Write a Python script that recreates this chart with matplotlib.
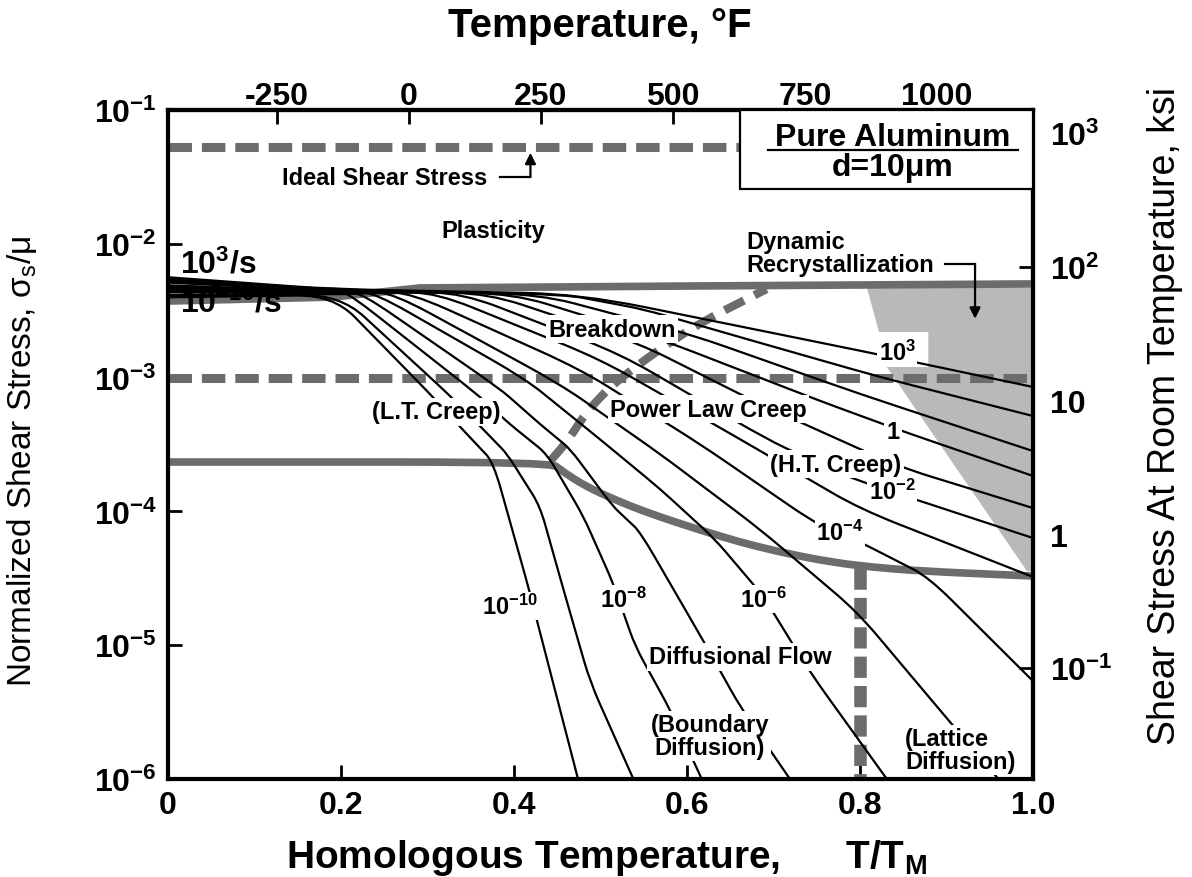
import matplotlib
matplotlib.use('Agg')
import matplotlib.pyplot as plt
import numpy as np
from matplotlib import font_manager
from matplotlib.path import Path
from matplotlib.patches import PathPatch, Polygon, Rectangle
from matplotlib.ticker import FixedLocator, FixedFormatter, NullLocator

installed = {f.name for f in font_manager.fontManager.ttflist}
SANS = 'Liberation Sans' if 'Liberation Sans' in installed else 'DejaVu Sans'

plt.rcParams['font.family'] = SANS
plt.rcParams['mathtext.fontset'] = 'custom'
plt.rcParams['mathtext.rm'] = SANS
plt.rcParams['mathtext.bf'] = SANS + ':bold'
plt.rcParams['mathtext.it'] = SANS + ':italic'
plt.rcParams['axes.unicode_minus'] = False

# axes
T_TICKS = [0, 0.2, 0.4, 0.6, 0.8, 1.0]
T_LABELS = ['0', '0.2', '0.4', '0.6', '0.8', '1.0']
S_TICKS = [1e-6, 1e-5, 1e-4, 1e-3, 1e-2, 1e-1]
S_LABELS = [r'$\mathbf{10^{-6}}$', r'$\mathbf{10^{-5}}$', r'$\mathbf{10^{-4}}$',
            r'$\mathbf{10^{-3}}$', r'$\mathbf{10^{-2}}$', r'$\mathbf{10^{-1}}$']
F_TICKS = [-250, 0, 250, 500, 750, 1000]
KSI_TICKS = [0.1, 1, 10, 100, 1000]
KSI_LABELS = [r'$\mathbf{10^{-1}}$', '1', '10', r'$\mathbf{10^{2}}$', r'$\mathbf{10^{3}}$']
F_ZERO = -456.0      # deg F at T/TM = 0 on the upper scale
F_SPAN = 1638.0      # deg F per unit T/TM
KSI_PER_MU = 10 ** 4.173

# strain-rate contours: T/TM and log10(sigma_s/mu)
r3_T = [0, 0.187, 0.476, 0.808, 1.0]
r3_S = [-2.25, -2.338, -2.375, -2.809, -3.070]
r2_T = [0, 0.19, 0.46, 0.55, 0.661, 0.823, 1.0]
r2_S = [-2.26, -2.341, -2.380, -2.49, -2.697, -2.996, -3.287]
r1_T = [0, 0.19, 0.43, 0.603, 0.800, 1.0]
r1_S = [-2.27, -2.345, -2.378, -2.674, -3.123, -3.549]
r0_T = [0, 0.19, 0.40, 0.569, 0.754, 0.852, 1.0]
r0_S = [-2.28, -2.348, -2.374, -2.712, -3.175, -3.407, -3.735]
rm1_T = [0, 0.19, 0.37, 0.546, 0.684, 0.846, 1.0]
rm1_S = [-2.29, -2.352, -2.371, -2.749, -3.197, -3.668, -3.975]
rm2_T = [0, 0.19, 0.34, 0.523, 0.692, 0.785, 1.0]
rm2_S = [-2.31, -2.355, -2.368, -2.824, -3.459, -3.743, -4.199]
rm3_T = [0, 0.19, 0.31, 0.499, 0.661, 0.800, 1.0]
rm3_S = [-2.32, -2.359, -2.366, -2.861, -3.459, -3.982, -4.490]
rm4_T = [0, 0.19, 0.28, 0.476, 0.615, 0.746, 0.800, 0.879, 1.0]
rm4_S = [-2.33, -2.362, -2.365, -2.936, -3.496, -4.079, -4.229, -4.490, -5.268]
rm5_T = [0, 0.19, 0.26, 0.453, 0.569, 0.684, 0.797, 0.904, 0.960]
rm5_S = [-2.34, -2.366, -2.368, -3.048, -3.571, -4.132, -4.752, -5.574, -6.0]
rm6_T = [0, 0.19, 0.24, 0.413, 0.499, 0.569, 0.632, 0.688, 0.742, 0.831]
rm6_S = [-2.35, -2.369, -2.370, -3.010, -3.459, -3.833, -4.206, -4.632, -5.200, -6.0]
rm7_T = [0, 0.19, 0.225, 0.384, 0.430, 0.465, 0.514, 0.546, 0.619, 0.661, 0.719]
rm7_S = [-2.36, -2.373, -2.374, -3.085, -3.347, -3.534, -3.960, -4.154, -4.969, -5.454, -6.0]
rm8_T = [0, 0.19, 0.210, 0.357, 0.395, 0.438, 0.480, 0.514, 0.540, 0.580, 0.617]
rm8_S = [-2.38, -2.376, -2.376, -3.123, -3.347, -3.571, -4.034, -4.528, -5.006, -5.477, -6.0]
rm9_T = [0, 0.199, 0.324, 0.364, 0.392, 0.430, 0.457, 0.488, 0.538]
rm9_S = [-2.39, -2.380, -3.123, -3.384, -3.571, -3.960, -4.580, -5.275, -6.0]
rm10_T = [0, 0.191, 0.303, 0.340, 0.376, 0.415, 0.427, 0.474]
rm10_S = [-2.40, -2.383, -3.123, -3.384, -3.631, -4.528, -4.827, -6.0]

# field boundaries
plastic_T = [0, 0.191, 0.291, 0.615, 1.0]
plastic_S = [-2.428, -2.398, -2.330, -2.315, -2.300]
diffusion_T = [0, 0.442, 0.459, 0.477, 0.499, 0.534, 0.569, 0.615, 0.661,
               0.708, 0.754, 0.800, 0.869, 1.0]
diffusion_S = [-3.631, -3.631, -3.713, -3.788, -3.862, -3.959, -4.042, -4.139,
               -4.229, -4.304, -4.364, -4.408, -4.446, -4.483]
breakdown_T = [0.442, 0.461, 0.484, 0.511, 0.542, 0.569, 0.617, 0.692]
breakdown_S = [-3.623, -3.481, -3.257, -3.070, -2.913, -2.786, -2.584, -2.338]
lattice_T = 0.8
lattice_S = [-4.42, -6.0]
ideal_shear = 0.0528
ideal_end_T = 0.661
yield_level = 1e-3

# dynamic recrystallization field
drx_T = [0.808, 0.822, 0.879, 0.879, 0.831, 0.993, 1.0, 1.0]
drx_S = [-2.330, -2.659, -2.659, -2.921, -2.921, -4.446, -4.446, -2.330]

contours = [(r3_T, r3_S), (r2_T, r2_S), (r1_T, r1_S), (r0_T, r0_S),
            (rm1_T, rm1_S), (rm2_T, rm2_S), (rm3_T, rm3_S), (rm4_T, rm4_S),
            (rm5_T, rm5_S), (rm6_T, rm6_S), (rm7_T, rm7_S), (rm8_T, rm8_S),
            (rm9_T, rm9_S), (rm10_T, rm10_S)]

# contour labels: text, T/TM, log10 stress
rate_labels = [(r'$\mathbf{10^{3}}$', 0.843, -2.809),
               (r'$\mathbf{1}$', 0.838, -3.407),
               (r'$\mathbf{10^{-2}}$', 0.837, -3.848),
               (r'$\mathbf{10^{-4}}$', 0.777, -4.154),
               (r'$\mathbf{10^{-6}}$', 0.688, -4.655),
               (r'$\mathbf{10^{-8}}$', 0.526, -4.655),
               (r'$\mathbf{10^{-10}}$', 0.395, -4.707)]


def rounded_path(t, logs, frac=0.22):
    """Polyline through (t, log s) with its corners rounded off."""
    p = np.column_stack([t, logs]).astype(float)
    verts = [p[0]]
    codes = [Path.MOVETO]
    for i in range(1, len(p) - 1):
        a = p[i] + (p[i - 1] - p[i]) * frac
        b = p[i] + (p[i + 1] - p[i]) * frac
        verts += [a, p[i], b]
        codes += [Path.LINETO, Path.CURVE3, Path.CURVE3]
    verts.append(p[-1])
    codes.append(Path.LINETO)
    v = np.array(verts)
    v[:, 1] = np.power(10.0, v[:, 1])
    return Path(v, codes)


fig = plt.figure(figsize=(11.92, 8.78), dpi=100)
ax = fig.add_axes([168 / 1192, 98 / 878, 865 / 1192, 669 / 878])
ax.set_yscale('log')
ax.set_xlim(0, 1)
ax.set_ylim(1e-6, 1e-1)

GRAY = '#6c6c6c'

ax.add_patch(Polygon(np.column_stack([drx_T, np.power(10.0, drx_S)]),
                     closed=True, facecolor='#b9b9b9', edgecolor='none', zorder=1))

for t, s in contours:
    ax.add_patch(PathPatch(rounded_path(t, s), fill=False, edgecolor='black',
                           lw=1.6, zorder=3))

ax.plot(plastic_T, np.power(10.0, plastic_S), color=GRAY, lw=5.5,
        solid_capstyle='butt', zorder=2)
ax.add_patch(PathPatch(rounded_path(diffusion_T, diffusion_S, 0.4), fill=False,
                       edgecolor=GRAY, lw=5.5, capstyle='butt', zorder=2))

dash_kw = dict(color=GRAY, lw=6.5, dash_capstyle='butt', zorder=2)
line, = ax.plot([0, ideal_end_T], [ideal_shear, ideal_shear], **dash_kw)
line.set_dashes((2.6, 1.1))
line, = ax.plot([0, 1], [yield_level, yield_level], **dash_kw)
line.set_dashes((2.6, 1.1))
ax.add_patch(PathPatch(rounded_path(breakdown_T, breakdown_S, 0.4), fill=False,
                       edgecolor=GRAY, lw=6, capstyle='butt',
                       linestyle=(0, (2.6, 1.4)), zorder=2))
line, = ax.plot([lattice_T, lattice_T], np.power(10.0, lattice_S), color=GRAY,
                lw=9, dash_capstyle='butt', zorder=2)
line.set_dashes((1.7, 0.65))

# legend box
ax.add_patch(Rectangle((0.6613, 0.8819), 0.3387, 0.1181, transform=ax.transAxes,
                       facecolor='white', edgecolor='black', lw=1.6, zorder=5))
ax.plot([0.6936, 0.9827], [0.9402, 0.9402], transform=ax.transAxes, color='black',
        lw=1.6, zorder=6)
ax.text(0.8382, 10 ** -1.20, 'Pure Aluminum', ha='center', va='center',
        fontsize=23, fontweight='bold', zorder=6)
ax.text(0.8382, 10 ** -1.425, 'd=10\u03bcm', ha='center', va='center',
        fontsize=23, fontweight='bold', zorder=6)

lab = dict(ha='center', va='center', fontweight='bold', fontsize=17, zorder=4,
           bbox=dict(facecolor='white', edgecolor='none', pad=1.5))
ax.text(0.2509, 10 ** -1.501, 'Ideal Shear Stress', **lab)
ax.text(0.3757, 10 ** -1.904, 'Plasticity', **lab)
ax.text(0.5133, 10 ** -2.637, 'Breakdown', **lab)
ax.text(0.3098, 10 ** -3.257, '(L.T. Creep)', **lab)
ax.text(0.6243, 10 ** -3.235, 'Power Law Creep', **lab)
ax.text(0.7723, 10 ** -3.646, '(H.T. Creep)', **lab)
ax.text(0.6613, 10 ** -5.088, 'Diffusional Flow', **lab)
ax.text(0.6266, 10 ** -5.679, '(Boundary\nDiffusion)', linespacing=1.0, **lab)
lab_left = dict(lab, ha='left')
ax.text(0.852, 10 ** -5.783, '(Lattice\nDiffusion)', linespacing=1.0, **lab_left)
ax.text(0.669, 10 ** -2.069, 'Dynamic\nRecrystallization', linespacing=1.05,
        ha='left', va='center', fontweight='bold', fontsize=17, zorder=4)

for txt, t, s in rate_labels:
    ax.text(t, 10 ** s, txt, ha='center', va='center', fontsize=17, zorder=4,
            bbox=dict(facecolor='white', edgecolor='none', pad=1.0))

ax.text(0.014, 10 ** -2.151, r'$\mathbf{10^{3}/s}$', ha='left', va='center',
        fontsize=23, zorder=4)
ax.text(0.014, 10 ** -2.44, r'$\mathbf{10^{-10}/s}$', ha='left', va='center',
        fontsize=23, zorder=4)

# arrows
ax.plot([0.384, 0.419], [10 ** -1.501] * 2, color='black', lw=1.6, zorder=4)
ax.annotate('', xy=(0.419, 10 ** -1.32), xytext=(0.419, 10 ** -1.501),
            arrowprops=dict(arrowstyle='-|>', color='black', lw=1.6,
                            mutation_scale=16, shrinkA=0, shrinkB=0), zorder=4)
ax.plot([0.898, 0.933], [10 ** -2.151] * 2, color='black', lw=1.6, zorder=4)
ax.annotate('', xy=(0.933, 10 ** -2.56), xytext=(0.933, 10 ** -2.151),
            arrowprops=dict(arrowstyle='-|>', color='black', lw=1.6,
                            mutation_scale=16, shrinkA=0, shrinkB=0), zorder=4)

# ticks and spines
for sp in ax.spines.values():
    sp.set_linewidth(3)
ax.xaxis.set_major_locator(FixedLocator(T_TICKS))
ax.xaxis.set_major_formatter(FixedFormatter(T_LABELS))
ax.yaxis.set_major_locator(FixedLocator(S_TICKS))
ax.yaxis.set_major_formatter(FixedFormatter(S_LABELS))
ax.yaxis.set_minor_locator(NullLocator())
ax.tick_params(direction='in', length=10, width=2, labelsize=23, pad=8)
for lbl in ax.get_xticklabels():
    lbl.set_fontweight('bold')

top = ax.secondary_xaxis('top', functions=(lambda t: F_ZERO + F_SPAN * t,
                                           lambda f: (f - F_ZERO) / F_SPAN))
top.xaxis.set_major_locator(FixedLocator(F_TICKS))
top.tick_params(direction='in', length=10, width=2, labelsize=23, pad=-1)
for lbl in top.get_xticklabels():
    lbl.set_fontweight('bold')

right = ax.secondary_yaxis('right', functions=(lambda s: s * KSI_PER_MU,
                                               lambda k: k / KSI_PER_MU))
right.yaxis.set_major_locator(FixedLocator(KSI_TICKS))
right.yaxis.set_major_formatter(FixedFormatter(KSI_LABELS))
right.yaxis.set_minor_locator(NullLocator())
right.tick_params(direction='in', length=10, width=2, labelsize=23, pad=12)
for lbl in right.get_yticklabels():
    lbl.set_fontweight('bold')
for sp in list(top.spines.values()) + list(right.spines.values()):
    sp.set_linewidth(3)

fig.text(606 / 1192, 1 - 858 / 878,
         'Homologous Temperature,      T/T$_\\mathregular{M}$',
         ha='center', va='center', fontsize=28, fontweight='bold')
fig.text(600 / 1192, 1 - 26 / 878, 'Temperature, \u00b0F', ha='center', va='center',
         fontsize=29, fontweight='bold')
fig.text(22 / 1192, 1 - 461 / 878,
         'Normalized Shear Stress, \u03c3$_\\mathregular{s}$/\u03bc',
         ha='center', va='center', rotation=90, fontsize=24)
fig.text(1165 / 1192, 1 - 416 / 878, 'Shear Stress At Room Temperature, ksi',
         ha='center', va='center', rotation=90, fontsize=27)

fig.savefig('out.png', dpi=100)
